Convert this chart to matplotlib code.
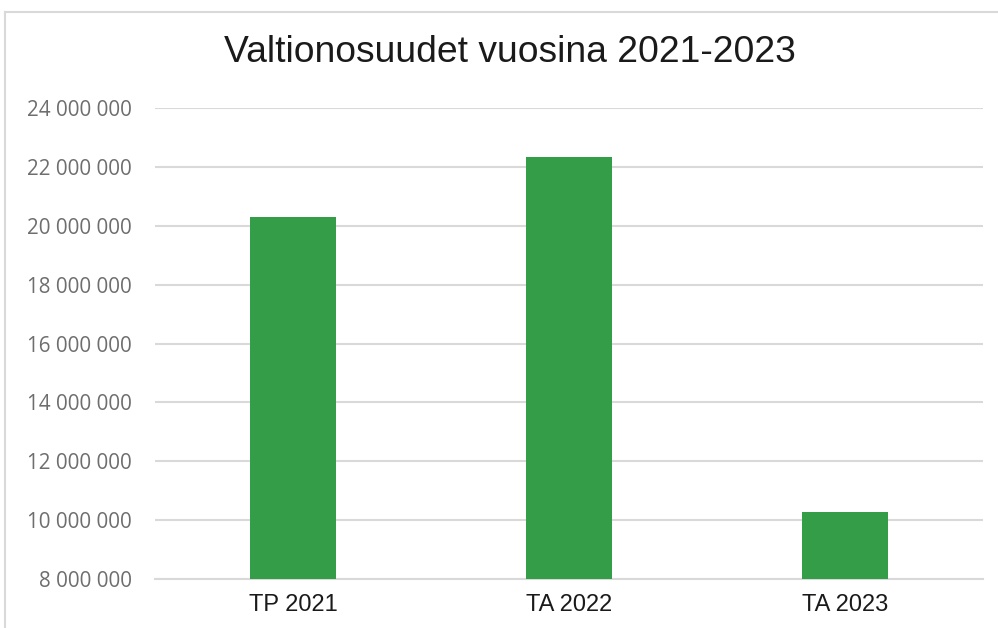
import matplotlib
matplotlib.use("Agg")
import matplotlib.pyplot as plt
from matplotlib.lines import Line2D
from matplotlib.ticker import FuncFormatter

# data
categories = ["TP 2021", "TA 2022", "TA 2023"]
values = [20300000, 22330000, 10280000]
y_ticks = list(range(8000000, 24000001, 2000000))

bar_color = "#339e47"
grid_color = "#d9d9d9"

fig = plt.figure(figsize=(9.98, 6.28), dpi=100)
ax = fig.add_axes([155 / 998, 1 - 579 / 628, 828 / 998, 471 / 628])

x = list(range(len(categories)))
ax.bar(x, values, width=0.31, color=bar_color, zorder=3)

ax.set_xlim(-0.5, len(categories) - 0.5)
ax.set_ylim(8000000, 24000000)
ax.set_yticks(y_ticks)
ax.yaxis.set_major_formatter(FuncFormatter(lambda v, p: f"{int(v):,}".replace(",", " ")))
ax.set_xticks(x)
ax.set_xticklabels(categories, fontsize=17, family="Liberation Sans", color="#1a1a1a")
for lab in ax.get_yticklabels():
    lab.set_family("Open Sans")
    lab.set_fontsize(14.9)
    lab.set_color("#6e6e6e")

ax.grid(axis="y", color=grid_color, lw=1.5, zorder=0)
ax.tick_params(axis="both", length=0)
ax.tick_params(axis="y", pad=16.5)
ax.tick_params(axis="x", pad=11)
for s in ["top", "right", "left"]:
    ax.spines[s].set_visible(False)
ax.spines["bottom"].set_color(grid_color)
ax.spines["bottom"].set_linewidth(1.5)

fig.text(0.511, 1 - 53 / 628, "Valtionosuudet vuosina 2021-2023", ha="center", va="center",
         fontsize=26.8, family="Liberation Sans", color="#1a1a1a")

# outer chart frame (partially visible)
fig.add_artist(Line2D([5 / 998, 5 / 998], [0, 1 - 12 / 628], transform=fig.transFigure,
                      color="#d9d9d9", lw=1.5))
fig.add_artist(Line2D([5 / 998, 1], [1 - 12 / 628, 1 - 12 / 628], transform=fig.transFigure,
                      color="#d9d9d9", lw=1.5))

fig.savefig("out.png", dpi=100)
